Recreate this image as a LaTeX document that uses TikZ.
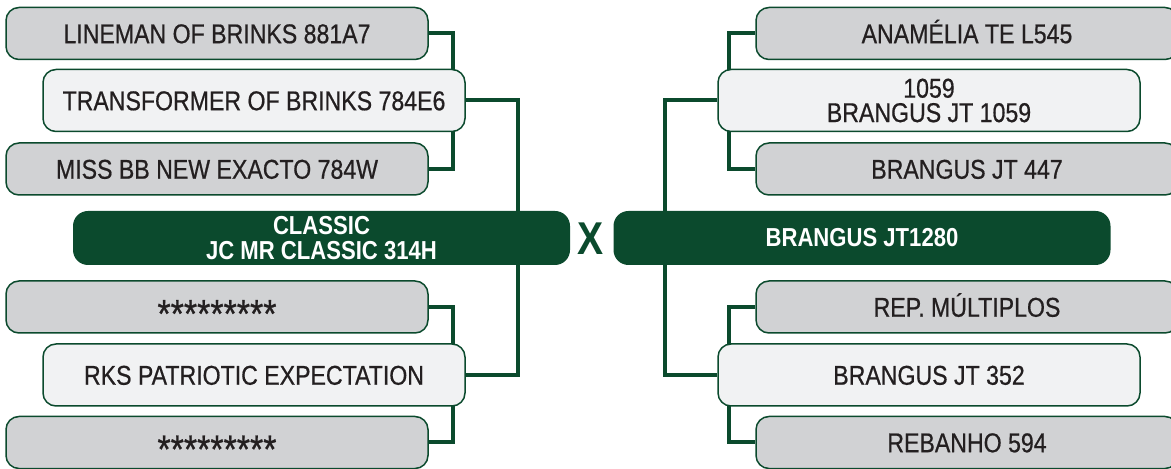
\documentclass[tikz,border=0pt]{standalone}
\usepackage{fontspec}
\setmainfont{Liberation Sans}[FakeStretch=0.85, UprightFeatures={FakeBold=0.6}]
\usepackage{tikz}
\usetikzlibrary{backgrounds}
\definecolor{pinegreen}{HTML}{0B4A2D}
\definecolor{boxgray}{HTML}{D1D2D4}
\definecolor{boxlight}{HTML}{F1F2F3}
\definecolor{inkgray}{HTML}{231F20}
\tikzstyle{ancestor} = [draw=pinegreen, line width=0.75pt, rounded corners=6.5pt, inner sep=0pt, minimum width=211pt, text=inkgray, font=\fontsize{13.6}{12.2}\selectfont]
\tikzstyle{oneline} = [text height=9.74pt, text depth=0pt]
\tikzstyle{grand} = [ancestor, oneline, fill=boxgray, minimum height=26pt]
\tikzstyle{parent} = [ancestor, fill=boxlight, minimum height=31pt]
\tikzstyle{mate} = [fill=pinegreen, rounded corners=7.5pt, inner sep=0pt, minimum width=248.5pt, minimum height=27pt, text=white, font=\bfseries\fontsize{13}{12.2}\selectfont]
\tikzstyle{link} = [draw=pinegreen, line width=2pt]
\newcommand{\hidden}{\raisebox{-5.4pt}{\fontsize{20}{20}\selectfont *********}}

\begin{document}
\begin{tikzpicture}[x=0.5pt, y=-0.5pt]
\useasboundingbox (0,0) rectangle (1171,469);

\node[grand] at (217,33.5) (sss) {LINEMAN OF BRINKS 881A7};
\node[parent, oneline] at (254,100.5) (ss) {TRANSFORMER OF BRINKS 784E6};
\node[grand] at (217,169) (ssd) {MISS BB NEW EXACTO 784W};
\node[mate, align=center] at (321.5,238) (sire) {CLASSIC\\JC MR CLASSIC 314H};
\node[grand] at (217,307) (sds) {\hidden};
\node[parent, oneline] at (254,375) (sd) {RKS PATRIOTIC EXPECTATION};
\node[grand] at (217,442.5) (sdd) {\hidden};

\node[text=pinegreen, font=\bfseries\fontsize{23}{23}\selectfont] at (591,239) (cross) {X};

\node[grand] at (967,33.5) (dss) {ANAMÉLIA TE L545};
\node[parent, align=center] at (929,100.5) (ds) {1059\\BRANGUS JT 1059};
\node[grand] at (967,169) (dsd) {BRANGUS JT 447};
\node[mate] at (862,238) (dam) {BRANGUS JT1280};
\node[grand] at (967,307) (dds) {REP. MÚLTIPLOS};
\node[parent, oneline] at (929,375) (dd) {BRANGUS JT 352};
\node[grand] at (967,442.5) (ddd) {REBANHO 594};

\coordinate (sirebus) at (518,0);
\coordinate (sirefork) at (453,0);
\coordinate (dambus) at (665,0);
\coordinate (damfork) at (729,0);

\begin{scope}[on background layer]
\path[link] (ss.east) -| (sire.north -| sirebus);
\path[link] (sd.east) -| (sire.south -| sirebus);
\path[link] (sss.east) -| (ss.east -| sirefork) |- (ssd.east);
\path[link] (sds.east) -| (sd.east -| sirefork) |- (sdd.east);
\path[link] (ds.west) -| (dam.north -| dambus);
\path[link] (dd.west) -| (dam.south -| dambus);
\path[link] (dss.west) -| (ds.west -| damfork) |- (dsd.west);
\path[link] (dds.west) -| (dd.west -| damfork) |- (ddd.west);
\end{scope}
\end{tikzpicture}
\end{document}
